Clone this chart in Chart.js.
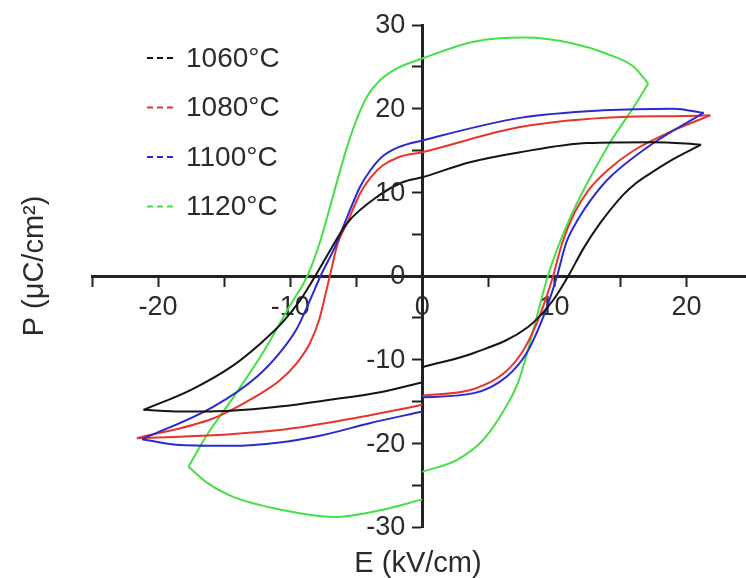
<!DOCTYPE html>
<html>
<head>
<meta charset="utf-8">
<script src="https://cdn.jsdelivr.net/npm/chart.js@4"></script>
<style>
  body { margin: 0; background: #fff; }
  #wrap { width: 746px; height: 578px; }
</style>
</head>
<body>
<div id="wrap"><canvas id="pe-chart" width="746" height="578"></canvas></div>
<script>
const temps = ['1060°C', '1080°C', '1100°C', '1120°C'];
const colors = ['#141414', '#e8352c', '#2a2ad0', '#48de48'];

// each loop starts at E = 0 on the rising branch and ends at E = 0 on the lower branch
const e1060 = [0, 3.9, 8.0, 9.9, 11.05, 12.2, 13.5, 15.2, 16.1, 17.0, 18.8, 21.1, 17.5, 12.5, 7.4, 3.6, 0, -1.5, -3.3, -5.7, -7.0, -8.1, -9.2, -10.5, -12.2, -14.5, -17.5, -21.1, -18.3, -14.5, -10.8, -7.0, -3.2, 0];
const p1060 = [-10.9, -9.2, -6.1, -2.9, 0, 3.3, 6.4, 9.7, 11.0, 12.0, 13.8, 15.7, 16.0, 15.9, 14.8, 13.6, 11.8, 11.2, 9.6, 6.3, 3.0, 0, -2.8, -5.4, -8.0, -10.9, -13.6, -16.0, -16.2, -16.1, -15.6, -14.8, -13.9, -12.7];

const e1080 = [0, 3.9, 6.2, 7.6, 8.7, 9.4, 9.9, 10.6, 11.5, 12.6, 14.0, 16.0, 19.0, 21.8, 19.0, 15.0, 7.4, 0, -1.8, -3.0, -3.9, -4.7, -5.7, -6.4, -7.0, -7.3, -7.8, -8.5, -9.5, -10.8, -12.5, -15.8, -21.6, -18.3, -14.5, -10.8, -7.0, -3.2, 0];
const p1080 = [-14.3, -13.5, -11.6, -9.0, -5.5, -2.5, 0, 4.0, 7.5, 10.3, 12.6, 15.0, 17.4, 19.2, 19.1, 19.0, 17.8, 14.8, 14.2, 13.2, 11.8, 9.9, 6.3, 3.9, 0, -2.0, -5.2, -8.0, -10.4, -12.5, -14.3, -17.0, -19.4, -19.2, -18.9, -18.4, -17.5, -16.4, -15.4];

const e1100 = [0, 3.9, 6.4, 7.9, 9.0, 9.7, 10.2, 10.9, 11.8, 13.0, 14.2, 17.5, 21.3, 19.0, 13.7, 7.4, 0, -1.8, -3.0, -3.9, -4.7, -5.7, -6.6, -7.7, -8.5, -9.5, -10.7, -12.5, -15.8, -21.2, -18.3, -14.5, -10.8, -7.5, -4.0, 0];
const p1100 = [-14.5, -14.0, -12.0, -9.2, -5.5, -2.5, 0, 4.0, 6.8, 9.6, 11.8, 15.9, 19.5, 20.0, 19.8, 18.9, 16.2, 15.4, 14.3, 12.7, 10.7, 7.0, 3.5, 0, -2.9, -6.3, -9.0, -12.0, -15.6, -19.5, -20.2, -20.3, -19.9, -19.0, -17.6, -16.2];

const e1120 = [0, 2.6, 4.6, 6.2, 7.3, 8.4, 9.5, 11.2, 14.0, 16.0, 17.1, 16.0, 13.9, 11.4, 7.7, 3.9, 0, -1.8, -3.2, -4.2, -5.0, -5.7, -6.7, -7.7, -8.7, -10.0, -12.0, -14.3, -16.3, -17.7, -16.3, -14.3, -10.5, -6.7, -3.2, 0];
const p1120 = [-23.4, -22.0, -19.6, -16.0, -12.5, -6.5, 0, 7.0, 15.4, 20.2, 23.0, 25.0, 26.6, 27.8, 28.5, 28.0, 26.0, 24.9, 23.4, 21.4, 18.6, 15.4, 9.9, 4.3, 0, -3.5, -9.0, -14.5, -19.0, -22.8, -24.7, -26.4, -28.0, -28.8, -28.0, -26.7];

const xTicks = [-25, -20, -15, -10, -5, 0, 5, 10, 15, 20];
const xLabeled = [-20, -10, 0, 10, 20];
const yTicks = [-30, -25, -20, -15, -10, -5, 0, 5, 10, 15, 20, 25, 30];
const yLabeled = [-30, -20, -10, 0, 10, 20, 30];

const loops = [[e1060, p1060], [e1080, p1080], [e1100, p1100], [e1120, p1120]];
const drawOrder = [1, 3, 2, 4]; // blue over red, green underneath

const textColor = '#2b2b2b';
const fontFamily = '"Liberation Sans", Arial, sans-serif';

// split a loop at its field extremes so the tips stay sharp
function branches(es, ps) {
  const pts = es.map((e, i) => ({ x: e, y: ps[i] }));
  const iMax = es.indexOf(Math.max(...es));
  const iMin = es.indexOf(Math.min(...es));
  return [pts.slice(0, iMax + 1), pts.slice(iMax, iMin + 1), pts.slice(iMin)];
}

const datasets = [];
loops.forEach((loop, i) => {
  branches(loop[0], loop[1]).forEach(seg => {
    datasets.push({
      label: temps[i],
      data: seg,
      showLine: true,
      borderColor: colors[i],
      backgroundColor: colors[i],
      borderWidth: 2,
      pointRadius: 0,
      cubicInterpolationMode: 'monotone',
      fill: false,
      order: drawOrder[i]
    });
  });
});

// legend with short dashed strokes, top left
const dashLegend = {
  id: 'dashLegend',
  afterDraw(chart) {
    const ctx = chart.ctx;
    ctx.save();
    ctx.font = '28px ' + fontFamily;
    ctx.textBaseline = 'middle';
    temps.forEach((t, i) => {
      const y = 58 + i * 49.5;
      ctx.strokeStyle = colors[i];
      ctx.lineWidth = 2;
      ctx.setLineDash([6, 4]);
      ctx.beginPath();
      ctx.moveTo(147, y);
      ctx.lineTo(175, y);
      ctx.stroke();
      ctx.setLineDash([]);
      ctx.fillStyle = textColor;
      ctx.fillText(t, 186, y + 1);
    });
    ctx.restore();
  }
};

// y tick labels sit left of the centred axis
const yLabels = {
  id: 'yLabels',
  afterDraw(chart) {
    const { x, y } = chart.scales;
    const ctx = chart.ctx;
    const axisX = x.getPixelForValue(0);
    ctx.save();
    ctx.fillStyle = textColor;
    ctx.font = '27px ' + fontFamily;
    ctx.textAlign = 'right';
    ctx.textBaseline = 'middle';
    yLabeled.forEach(v => ctx.fillText(String(v), axisX - 17, y.getPixelForValue(v) + 1));
    ctx.restore();
  }
};

const axisTitles = {
  id: 'axisTitles',
  afterDraw(chart) {
    const ctx = chart.ctx;
    ctx.save();
    ctx.fillStyle = textColor;
    ctx.font = '29px ' + fontFamily;
    ctx.textAlign = 'center';
    ctx.textBaseline = 'alphabetic';
    ctx.fillText('E (kV/cm)', 418, 572);
    ctx.translate(43, 266);
    ctx.rotate(-Math.PI / 2);
    ctx.fillText('P (μC/cm²)', 0, 0);
    ctx.restore();
  }
};

const ctx = document.getElementById('pe-chart').getContext('2d');
const peChart = new Chart(ctx, {
  type: 'scatter',
  data: { datasets: datasets },
  options: {
    responsive: false,
    animation: false,
    layout: { padding: { left: 92, right: 0, top: 25, bottom: 51 } },
    plugins: { legend: { display: false }, tooltip: { enabled: false } },
    scales: {
      x: {
        type: 'linear',
        position: { y: 0 },
        min: -25,
        max: 24.5,
        afterBuildTicks: scale => { scale.ticks = xTicks.map(v => ({ value: v })); },
        grid: { drawOnChartArea: false, drawTicks: true, tickLength: 9, tickWidth: 2, tickColor: '#222' },
        border: { display: true, color: '#222', width: 3 },
        ticks: {
          padding: 6,
          autoSkip: false,
          maxRotation: 0,
          color: textColor,
          font: { family: fontFamily, size: 27 },
          callback: v => xLabeled.includes(v) ? String(v) : ''
        }
      },
      y: {
        type: 'linear',
        position: { x: 0 },
        min: -30,
        max: 30,
        afterBuildTicks: scale => { scale.ticks = yTicks.map(v => ({ value: v })); },
        grid: { drawOnChartArea: false, drawTicks: true, tickLength: 9, tickWidth: 2, tickColor: '#222' },
        border: { display: true, color: '#222', width: 3 },
        ticks: { display: false }
      }
    }
  },
  plugins: [dashLegend, yLabels, axisTitles]
});
</script>
</body>
</html>
